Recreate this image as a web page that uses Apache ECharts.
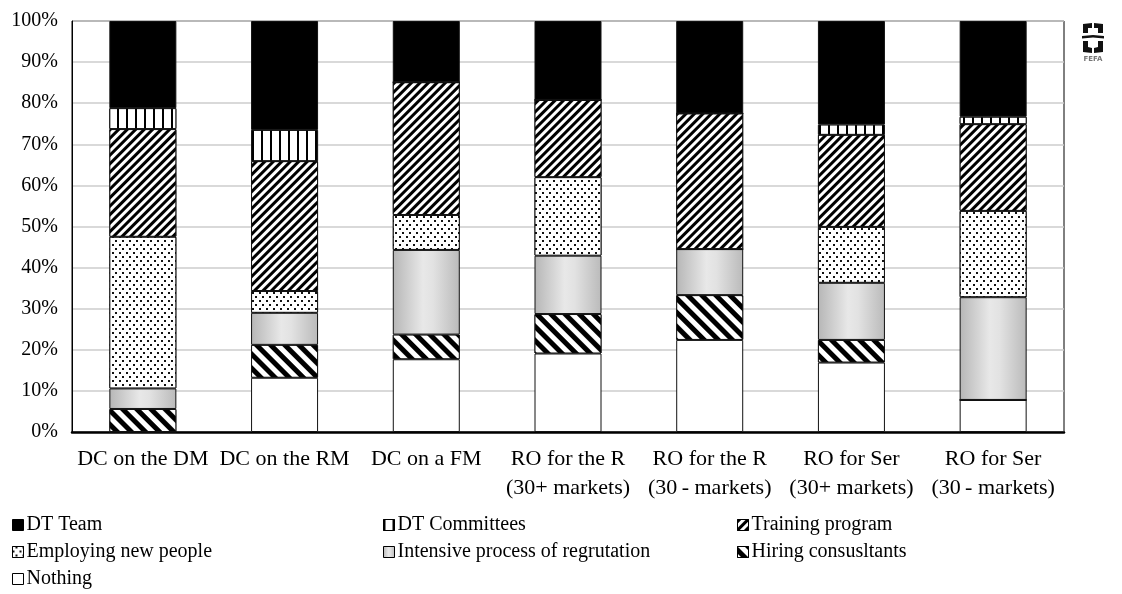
<!DOCTYPE html>
<html>
<head>
<meta charset="utf-8">
<script src="https://cdn.jsdelivr.net/npm/echarts@6/dist/echarts.min.js"></script>
<style>
  html, body { margin: 0; padding: 0; background: #fff; }
  #chart { width: 1122px; height: 594px; }
</style>
</head>
<body>
<div id="chart"></div>
<script>
// Categories (x axis)
var categories = [
  'DC on the DM',
  'DC on the RM',
  'DC on a FM',
  'RO for the R\n(30+ markets)',
  'RO for the R\n(30\u2009- markets)',
  'RO for Ser\n(30+ markets)',
  'RO for Ser\n(30\u2009- markets)'
];

// Shares per category (percent), stacked from the bottom up
var nothing    = [0,    13.2, 17.7, 19.1, 22.4, 16.9, 7.8];
var hiring     = [5.6,  8.0,  6.0,  9.6,  10.9, 5.5,  0];
var intensive  = [5.0,  7.8,  20.6, 14.2, 11.2, 13.9, 25.0];
var employing  = [36.9, 5.3,  8.5,  19.1, 0,    13.6, 21.0];
var training   = [26.2, 31.6, 32.3, 18.8, 33.0, 22.4, 21.1];
var committees = [5.1,  7.6,  0,    0,    0,    2.5,  1.8];
var dtTeam     = [21.2, 26.5, 14.9, 19.2, 22.5, 25.2, 23.3];

// Y axis tick settings
var yMin = 0, yMax = 100, yStep = 10;

var FONT = '"Liberation Serif", "DejaVu Serif", serif';

function bar(name, data, itemStyle) {
  return {
    name: name,
    type: 'bar',
    stack: 'total',
    barWidth: 67,
    data: data,
    itemStyle: Object.assign({ borderColor: '#111', borderWidth: 1 }, itemStyle)
  };
}

var series = [
  bar('Nothing', nothing, { color: '#ffffff' }),
  bar('Hiring consusltants', hiring, {
    color: '#ffffff',
    decal: {
      symbol: 'rect', symbolSize: 1, color: '#000', backgroundColor: '#fff',
      dashArrayX: [1, 0], dashArrayY: [4.2, 5.0], rotation: Math.PI / 4
    }
  }),
  bar('Intensive process of regrutation', intensive, {
    color: {
      type: 'linear', x: 0, y: 0, x2: 1, y2: 0,
      colorStops: [
        { offset: 0, color: '#b6b6b6' },
        { offset: 0.45, color: '#e8e8e8' },
        { offset: 0.6, color: '#e2e2e2' },
        { offset: 1, color: '#bababa' }
      ]
    }
  }),
  bar('Employing new people', employing, {
    color: '#ffffff',
    decal: {
      symbol: 'rect', symbolSize: 1, color: '#111', backgroundColor: '#fff',
      dashArrayX: [[1.7, 4.3], [0, 3, 1.7, 1.3]], dashArrayY: [1.7, 1.6], rotation: 0
    }
  }),
  bar('Training program', training, {
    color: '#ffffff',
    decal: {
      symbol: 'rect', symbolSize: 1, color: '#000', backgroundColor: '#fff',
      dashArrayX: [1, 0], dashArrayY: [2.4, 2.6], rotation: -Math.PI / 4
    }
  }),
  bar('DT Committees', committees, {
    color: '#ffffff',
    decal: {
      symbol: 'rect', symbolSize: 1, color: '#000', backgroundColor: '#fff',
      dashArrayX: [1.3, 6.1], dashArrayY: [1, 0], rotation: 0
    }
  }),
  bar('DT Team', dtTeam, { color: '#000000' })
];

function legendColumn(left, names) {
  return {
    orient: 'vertical',
    left: left,
    top: 515,
    padding: 0,
    itemGap: 7,
    itemWidth: 11,
    itemHeight: 11,
    icon: 'rect',
    selectedMode: false,
    data: names,
    itemStyle: { borderColor: '#000', borderWidth: 1 },
    textStyle: { fontFamily: FONT, fontSize: 20, color: '#000', lineHeight: 20, padding: [0, 0, 0, -2] }
  };
}

var chart = echarts.init(document.getElementById('chart'), null, { renderer: 'canvas' });
chart.setOption({
  animation: false,
  backgroundColor: '#fff',
  grid: {
    left: 72, right: 58, top: 21, bottom: 162,
    show: true, borderColor: '#000', borderWidth: 1, backgroundColor: 'transparent'
  },
  legend: [
    legendColumn(12, ['DT Team', 'Employing new people', 'Nothing']),
    legendColumn(383, ['DT Committees', 'Intensive process of regrutation']),
    legendColumn(737, ['Training program', 'Hiring consusltants'])
  ],
  xAxis: {
    type: 'category',
    data: categories,
    axisTick: { show: false },
    axisLine: { lineStyle: { color: '#000', width: 2.5 } },
    axisLabel: {
      fontFamily: FONT, fontSize: 22, color: '#000', lineHeight: 29, margin: 13, interval: 0
    }
  },
  yAxis: {
    type: 'value',
    min: yMin, max: yMax, interval: yStep,
    axisLine: { show: true, lineStyle: { color: '#000', width: 1 } },
    axisTick: { show: false },
    splitLine: { lineStyle: { color: '#cccccc', width: 1.5 } },
    axisLabel: {
      formatter: '{value}%', fontFamily: FONT, fontSize: 20, color: '#000', margin: 14
    }
  },
  series: series,
  graphic: [
    {
      // FEFA logo mark
      type: 'group', left: 1082, top: 23,
      children: [
        { type: 'polygon', shape: { points: [[1,1],[10,0],[10,5],[6,5],[6,10],[1,10]] }, style: { fill: '#111' } },
        { type: 'polygon', shape: { points: [[12,0],[21,1],[21,10],[16,10],[16,5],[12,5]] }, style: { fill: '#111' } },
        { type: 'polygon', shape: { points: [[0,13],[11,12],[22,13],[22,15.5],[11,14.5],[0,15.5]] }, style: { fill: '#111' } },
        { type: 'polygon', shape: { points: [[1,18],[6,18],[6,24],[10,25],[10,30],[1,29]] }, style: { fill: '#111' } },
        { type: 'polygon', shape: { points: [[16,18],[21,18],[21,29],[12,30],[12,25],[16,24]] }, style: { fill: '#111' } },
        { type: 'text', x: 11, y: 36, style: { text: 'FEFA', fill: '#777', font: 'bold 7px "DejaVu Sans", sans-serif', align: 'center', verticalAlign: 'middle' } }
      ]
    }
  ]
});
</script>
</body>
</html>
